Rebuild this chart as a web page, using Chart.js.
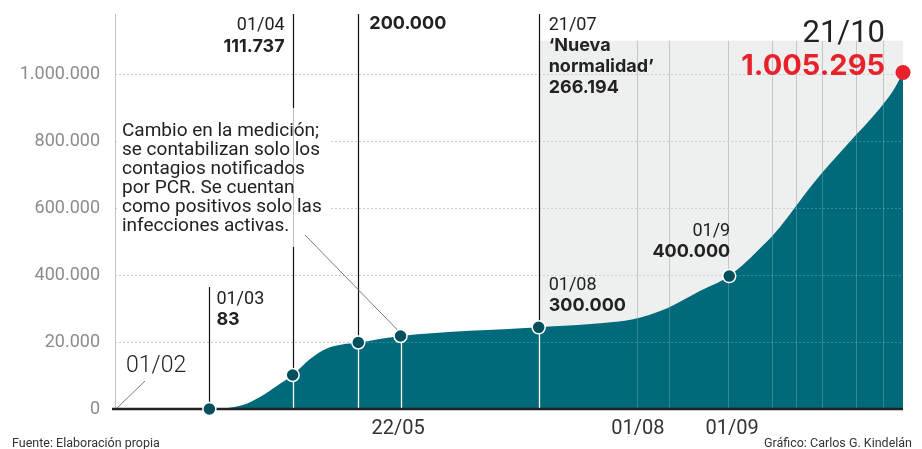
<!DOCTYPE html>
<html><head><meta charset="utf-8">
<script src="https://cdn.jsdelivr.net/npm/chart.js@4.4.1/dist/chart.umd.min.js"></script>
<style>html,body{margin:0;padding:0;background:#fff;}canvas{display:block;}</style>
</head><body>
<canvas id="c" width="922" height="449"></canvas>
<script>
// Eje temporal del gráfico tal como se lee en la imagen (01/02 = 0 ... 21/10 = 263)
const dias  = [0, 20, 31.5, 42.7, 48.4, 54.0, 59.3, 65.1, 70.7, 75.8, 81.2, 95.3, 141.4, 161.9, 172.9, 184.1, 195.2, 205.0, 216.4, 221.9, 233.1, 244.2, 255.3, 259.8, 263];
const casos = [0, 0, 83, 11900, 35800, 68700, 101500, 149000, 180600, 192500, 198500, 218000, 244000, 256000, 268000, 300600, 352200, 397000, 489600, 543300, 674600, 788000, 898500, 952000, 1005295];
// índices de los hitos marcados: 01/03, 01/04, 200.000, 22/05, 21/07, 01/9, 21/10
const hitos = [2, 6, 10, 11, 12, 17, 24];
const ticksX = [94.5, 174.5, 206];
const etiquetasX = ['22/05', '01/08', '01/09'];
const ticksY = [0, 200000, 400000, 600000, 800000, 1000000];
const etiquetasY = ['0', '20.000', '400.000', '600.000', '800.000', '1.000.000'];
const lineasGris = [174.2, 184.9, 204.6, 219.3, 227.3, 236, 247.3, 256.3];
const inicioNormalidad = 141.4;
const techoGris = 1100000;

const TEAL = '#006a7a', PUNTO = '#02505c', ROJO = '#e8212b', TXT = '#222';

function seg(ctx, x1, y1, x2, y2) { ctx.beginPath(); ctx.moveTo(x1, y1); ctx.lineTo(x2, y2); ctx.stroke(); }

const deco = {
  id: 'deco',
  beforeDatasetsDraw(chart) {
    const { ctx, chartArea: a, scales: { x, y } } = chart;
    ctx.save();
    const gx = x.getPixelForValue(inicioNormalidad), gy = y.getPixelForValue(techoGris);
    ctx.fillStyle = '#eef0f0';
    ctx.fillRect(gx, gy, a.right - gx, a.bottom - gy);
    ctx.lineWidth = 1;
    ctx.strokeStyle = '#c6c6c6';
    lineasGris.forEach(v => { const px = Math.round(x.getPixelForValue(v)) + 0.5; seg(ctx, px, gy, px, a.bottom); });
    ctx.setLineDash([2, 2]);
    ctx.strokeStyle = '#cdcdcd';
    ticksY.slice(1).forEach(v => { const py = Math.round(y.getPixelForValue(v)) + 0.5; seg(ctx, a.left, py, a.right, py); });
    ctx.setLineDash([]);
    ctx.strokeStyle = '#c4c4c4';
    seg(ctx, a.left + 0.5, a.top, a.left + 0.5, a.bottom);
    // caja del texto explicativo
    ctx.fillStyle = '#fff';
    ctx.fillRect(119, 112, 212, 128);
    ctx.restore();
  },
  afterDatasetDraw(chart, args) {
    if (args.index !== 0) return;
    const { ctx, chartArea: a, scales: { x, y } } = chart;
    const meta = chart.getDatasetMeta(0);
    const pts = meta.data;
    ctx.save();
    ctx.save();
    try {
      ctx.beginPath();
      meta.dataset.path(ctx);
      ctx.lineTo(pts[pts.length - 1].x, a.bottom);
      ctx.lineTo(pts[0].x, a.bottom);
      ctx.closePath();
      ctx.clip();
    } catch (e) {}
    ctx.lineWidth = 1;
    ctx.strokeStyle = 'rgba(255,255,255,0.2)';
    const gy = y.getPixelForValue(techoGris);
    lineasGris.forEach(v => { const px = Math.round(x.getPixelForValue(v)) + 0.5; seg(ctx, px, gy, px, a.bottom); });
    ctx.setLineDash([2, 2]);
    ctx.strokeStyle = 'rgba(255,255,255,0.22)';
    ticksY.slice(1).forEach(v => { const py = Math.round(y.getPixelForValue(v)) + 0.5; seg(ctx, a.left, py, a.right, py); });
    ctx.setLineDash([]);
    ctx.restore();

    ctx.strokeStyle = '#ffffff'; ctx.lineWidth = 1.3;
    [6, 10, 11, 12].forEach(i => { const p = pts[i]; const px = Math.round(p.x) + 0.5; seg(ctx, px, p.y, px, a.bottom); });

    ctx.strokeStyle = '#111'; ctx.lineWidth = 1.2;
    const p04 = pts[6], p200 = pts[10], p21 = pts[12], p03 = pts[2], p22 = pts[11];
    let px = Math.round(p04.x) + 0.5;
    seg(ctx, px, a.top, px, 108);
    seg(ctx, px, 247, px, p04.y);
    ctx.strokeStyle = '#bdbdbd'; ctx.lineWidth = 1;
    seg(ctx, px, 108, px, 247);
    ctx.strokeStyle = '#111'; ctx.lineWidth = 1.2;
    px = Math.round(p200.x) + 0.5; seg(ctx, px, a.top, px, p200.y);
    px = Math.round(p21.x) + 0.5; seg(ctx, px, a.top, px, p21.y);
    px = Math.round(p03.x) + 0.5; seg(ctx, px, 287, px, a.bottom);

    ctx.strokeStyle = '#7a7a7a'; ctx.lineWidth = 1;
    seg(ctx, 305, 235, p22.x - 2, p22.y - 5);
    seg(ctx, a.left + 1, a.bottom, 145, 381);

    ctx.strokeStyle = '#222'; ctx.lineWidth = 2.5;
    seg(ctx, a.left - 3, a.bottom, a.right, a.bottom);
    ctx.restore();
  },
  afterDraw(chart) {
    const { ctx } = chart;
    const pts = chart.getDatasetMeta(0).data;
    const REG = '18px Roboto', BOLD = 'bold 18px Inter';
    function t(s, xx, yy, font, color, align) {
      ctx.font = font; ctx.fillStyle = color || TXT; ctx.textAlign = align || 'left'; ctx.textBaseline = 'alphabetic';
      ctx.fillText(s, xx, yy);
    }
    ctx.save();
    const p04 = pts[6], p200 = pts[10], p21 = pts[12], p03 = pts[2], p9 = pts[17];
    t('01/04', p04.x - 8, 30, REG, TXT, 'right');
    t('111.737', p04.x - 8, 52, BOLD, TXT, 'right');
    t('200.000', p200.x + 11, 29, BOLD);
    t('21/07', p21.x + 10, 30, REG);
    t('\u2018Nueva', p21.x + 10, 51, BOLD);
    t('normalidad\u2019', p21.x + 10, 72, BOLD);
    t('266.194', p21.x + 10, 93, BOLD);
    t('01/03', p03.x + 7, 304, REG);
    t('83', p03.x + 7, 325, BOLD);
    t('01/08', p21.x + 10, 290, REG);
    t('300.000', p21.x + 10, 311, BOLD);
    t('01/9', p9.x + 1, 236, REG, TXT, 'right');
    t('400.000', p9.x + 1, 257, BOLD, TXT, 'right');
    t('21/10', 885, 42, '31px Roboto', TXT, 'right');
    t('1.005.295', 885, 75, 'bold 29px Inter', ROJO, 'right');
    t('01/02', 126, 372, '300 23px Roboto');
    const parrafo = ['Cambio en la medición;', 'se contabilizan solo los', 'contagios notificados', 'por PCR. Se cuentan', 'como positivos solo las', 'infecciones activas.'];
    parrafo.forEach((s, i) => t(s, 122, 136 + i * 19, '19px Roboto'));
    t('Fuente: Elaboración propia', 12, 447, '12.5px Roboto', '#333');
    t('Gráfico: Carlos G. Kindelán', 912, 447, '12.5px Roboto', '#333', 'right');
    ctx.restore();
  }
};

new Chart(document.getElementById('c'), {
  data: {
    datasets: [
      {
        type: 'line',
        data: dias.map((d, i) => ({ x: d, y: casos[i] })),
        backgroundColor: TEAL,
        borderWidth: 0,
        borderColor: TEAL,
        fill: 'origin',
        pointRadius: 0,
        cubicInterpolationMode: 'monotone',
        order: 2
      },
      {
        type: 'scatter',
        data: hitos.map(i => ({ x: dias[i], y: casos[i] })),
        backgroundColor: hitos.map((h, i) => i === hitos.length - 1 ? ROJO : PUNTO),
        borderColor: '#ffffff',
        borderWidth: hitos.map((h, i) => i === hitos.length - 1 ? 0 : 1.5),
        pointRadius: hitos.map((h, i) => i === hitos.length - 1 ? 7.5 : 6.5),
        clip: false,
        order: 1
      }
    ]
  },
  options: {
    responsive: false,
    animation: false,
    events: [],
    layout: { padding: { left: 0, right: 19, top: 14, bottom: 0 } },
    plugins: { legend: { display: false }, tooltip: { enabled: false } },
    scales: {
      x: {
        type: 'linear', min: 0, max: 263,
        grid: { display: false, drawTicks: false },
        border: { display: false },
        afterBuildTicks: s => { s.ticks = ticksX.map(v => ({ value: v })); },
        afterFit: s => { s.height = 40; },
        ticks: {
          callback: (v, i) => etiquetasX[i],
          font: { family: 'Roboto', size: 20 },
          color: '#333', padding: 8, maxRotation: 0, autoSkip: false
        }
      },
      y: {
        type: 'linear', min: 0, max: 1180000,
        grid: { display: false, drawTicks: true, tickLength: 15 },
        border: { display: false },
        afterBuildTicks: s => { s.ticks = ticksY.map(v => ({ value: v })); },
        afterFit: s => { s.width = 115; },
        ticks: {
          callback: (v, i) => etiquetasY[i],
          font: { family: 'Roboto', size: 18 },
          color: '#8c8c8c', padding: 0
        }
      }
    }
  },
  plugins: [deco]
});
</script>
</body></html>
